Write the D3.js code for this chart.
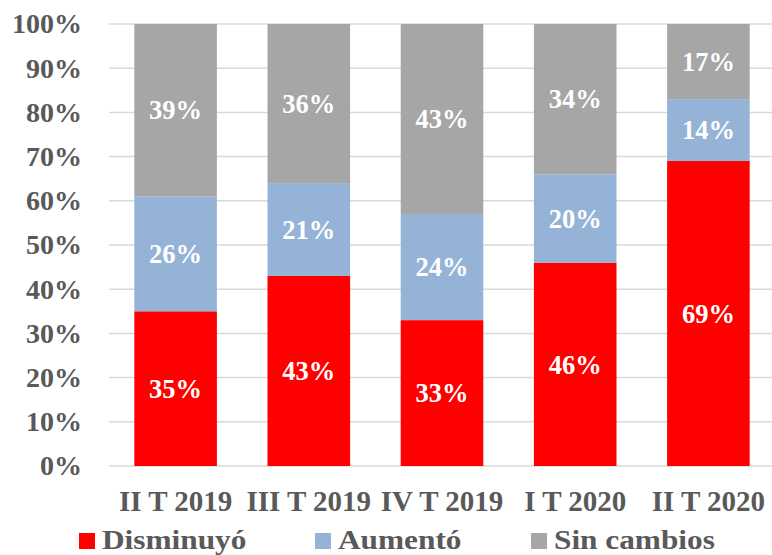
<!DOCTYPE html>
<html><head><meta charset="utf-8">
<script src="https://cdn.jsdelivr.net/npm/d3@7"></script>
<style>body{margin:0;background:#fff}svg{display:block}
text{font-family:"Liberation Serif","Times New Roman",Tinos,serif;font-weight:bold}</style>
</head><body>
<svg id="c" width="772" height="555"></svg>
<script>
const categories = ["II T 2019","III T 2019","IV T 2019","I T 2020","II T 2020"];
const seriesNames = ["Disminuyó","Aumentó","Sin cambios"];
const disminuyo = [35,43,33,46,69];
const aumento = [26,21,24,20,14];
const sinCambios = [39,36,43,34,17];
const yTicks = [0,10,20,30,40,50,60,70,80,90,100];
const colors = ["#ff0000","#95b3d7","#a6a6a6"];

const svg = d3.select("#c");
const textCol = "#595959";
const x = d3.scaleBand().domain(categories).range([109,775]).paddingInner(0.38).paddingOuter(0.19);
const y = d3.scaleLinear().domain([0,100]).range([466,24]);

svg.append("g").selectAll("line").data(yTicks).join("line")
  .attr("x1",109).attr("x2",772)
  .attr("y1",d=>y(d)).attr("y2",d=>y(d))
  .attr("stroke","#d9d9d9").attr("stroke-width",1.5);

const rows = categories.map((c,i)=>({cat:c, "Disminuyó":disminuyo[i], "Aumentó":aumento[i], "Sin cambios":sinCambios[i]}));
const stack = d3.stack().keys(seriesNames)(rows);

stack.forEach((s,si)=>{
  const g = svg.append("g");
  g.selectAll("rect").data(s).join("rect")
    .attr("x",d=>x(d.data.cat)).attr("width",x.bandwidth())
    .attr("y",d=>y(d[1])).attr("height",d=>y(d[0])-y(d[1]))
    .attr("fill",colors[si]);
  g.selectAll("text").data(s).join("text")
    .attr("x",d=>x(d.data.cat)+x.bandwidth()/2)
    .attr("y",d=>(y(d[0])+y(d[1]))/2)
    .attr("dy","0.35em")
    .attr("text-anchor","middle")
    .attr("fill","#fff").style("font-size","26.5px")
    .text(d=>(d[1]-d[0])+"%");
});

const ya = svg.append("g").attr("transform","translate(82,0)")
  .call(d3.axisLeft(y).tickValues(yTicks).tickFormat(d=>d+"%").tickSize(0).tickPadding(0));
ya.select(".domain").remove();
ya.attr("font-family",null).attr("font-size",null);
ya.selectAll("text").style("font-size","28px").attr("fill",textCol);

const xa = svg.append("g").attr("transform","translate(0,466)")
  .call(d3.axisBottom(x).tickSize(0).tickPadding(0));
xa.select(".domain").remove();
xa.attr("font-family",null).attr("font-size",null);
xa.selectAll("text").attr("y",45).attr("dy",0).style("font-size","29px").attr("fill",textCol);

const legX = [79,315,531];
const lg = svg.append("g");
seriesNames.forEach((n,i)=>{
  lg.append("rect").attr("x",legX[i]).attr("y",533).attr("width",16).attr("height",16).attr("fill",colors[i]);
  lg.append("text").attr("transform",`translate(${legX[i]+23},549) scale(1.16,1)`)
    .style("font-size","27px").attr("fill",textCol).text(n);
});
</script>
</body></html>
